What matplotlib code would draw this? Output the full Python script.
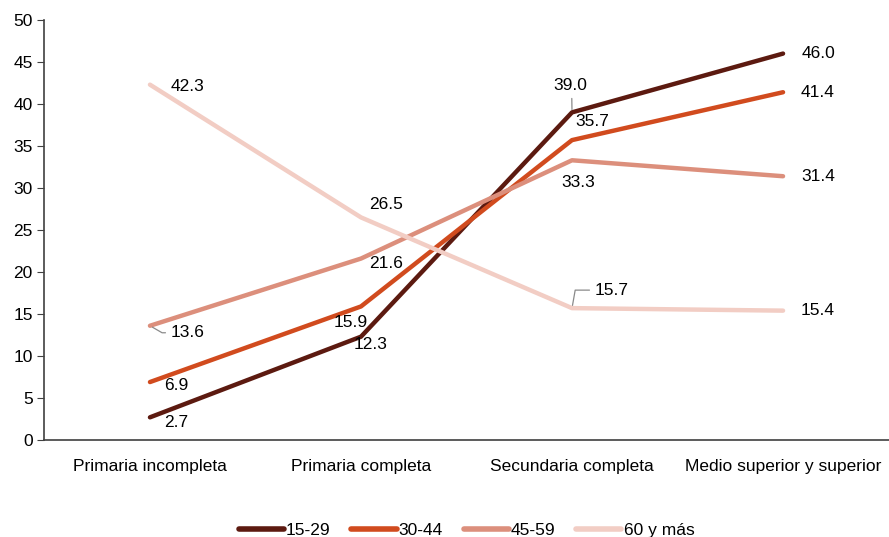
import matplotlib.pyplot as plt
import numpy as np

plt.rcParams['font.family'] = ['Liberation Sans', 'DejaVu Sans']

categories = ["Primaria incompleta", "Primaria completa", "Secundaria completa", "Medio superior y superior"]
groups = ["15-29", "30-44", "45-59", "60 y más"]
v_15_29 = [2.7, 12.3, 39.0, 46.0]
v_30_44 = [6.9, 15.9, 35.7, 41.4]
v_45_59 = [13.6, 21.6, 33.3, 31.4]
v_60 = [42.3, 26.5, 15.7, 15.4]

series = [v_15_29, v_30_44, v_45_59, v_60]
colors = ["#5c1a10", "#d14b1e", "#dc8f7c", "#f2cdc4"]

# label offsets in pixels (text centre vs point), per series
offsets = [
    [(26, -5), (10, -8), (-2, 27), (35, 0)],
    [(26, -3), (-10, -16), (20, 19), (35, 0)],
    [(38, -7), (25, -5), (6, -22), (35, 0)],
    [(38, -2), (25, 13), (40, 18), (35, 0)],
]
# leader lines: (series, category) -> (start point on text box, connection style)
leaders = {
    (2, 0): ((0.0, 0.5), "angle,angleA=0,angleB=150,rad=0"),
    (0, 2): ((0.55, 0.0), "arc3"),
    (3, 2): ((0.0, 0.5), "angle,angleA=0,angleB=80,rad=0"),
}

fig = plt.figure(figsize=(8.89, 5.37), dpi=100)
ax = fig.add_axes([0.05, 0.1806, 0.9495, 0.7822])

fs = 12.5
x = np.arange(len(categories))
for i in range(len(series)):
    ax.plot(x, series[i], color=colors[i], lw=3.2, label=groups[i], solid_capstyle='round')

for i in range(len(series)):
    for j in range(len(categories)):
        dx, dy = offsets[i][j]
        if (i, j) in leaders:
            rp, cs = leaders[(i, j)]
            ax.annotate(f"{series[i][j]:.1f}", (x[j], series[i][j]), xytext=(dx, dy),
                        textcoords='offset pixels', ha='center', va='center', fontsize=fs,
                        arrowprops=dict(arrowstyle='-', color='#8a8a8a', lw=0.9,
                                        shrinkA=2, shrinkB=2, relpos=rp,
                                        connectionstyle=cs))
        else:
            ax.annotate(f"{series[i][j]:.1f}", (x[j], series[i][j]), xytext=(dx, dy),
                        textcoords='offset pixels', ha='center', va='center', fontsize=fs)

ax.set_xlim(-0.5, 3.5)
ax.set_ylim(0, 50)
ax.set_yticks(np.arange(0, 51, 5))
ax.set_xticks(x)
ax.set_xticklabels(categories)
ax.tick_params(axis='x', length=0, pad=14, labelsize=fs)
ax.tick_params(axis='y', length=5, direction='out', labelsize=fs, color='#404040')
for s in ['top', 'right']:
    ax.spines[s].set_visible(False)
ax.spines['left'].set_color('#404040')
ax.spines['bottom'].set_color('#404040')
ax.spines['left'].set_linewidth(1.2)
ax.spines['bottom'].set_linewidth(1.2)

leg = ax.legend(loc='upper center', bbox_to_anchor=(0.5, -0.16), ncol=4, frameon=False,
                fontsize=fs, handlelength=2.6, handletextpad=0.12, columnspacing=1.2)
for h in leg.get_lines():
    h.set_linewidth(4)

fig.savefig("out.png", dpi=100)
